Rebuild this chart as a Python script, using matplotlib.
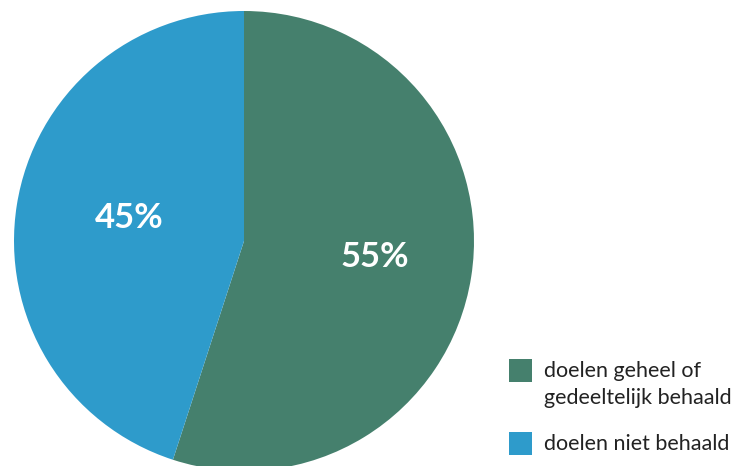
import matplotlib
matplotlib.use("Agg")
import matplotlib.pyplot as plt
from matplotlib.patches import Rectangle

labels = ["doelen geheel of\ngedeeltelijk behaald", "doelen niet behaald"]
values = [55, 45]
colors = ["#45806D", "#2E9BCB"]

plt.rcParams['font.family'] = ['Lato', 'DejaVu Sans']

W, H = 738, 466
fig = plt.figure(figsize=(W/100, H/100), dpi=100)
cx, cy, r = 244, 241, 230
ax = fig.add_axes([(cx - r)/W, (H - cy - r)/H, 2*r/W, 2*r/H])
wedges, texts, autotexts = ax.pie(
    values, colors=colors, startangle=90, counterclock=False,
    autopct=lambda p: f"{p:.0f}%", pctdistance=0.54, radius=1,
    wedgeprops=dict(linewidth=0),
    textprops=dict(color="white", fontsize=25, fontweight="bold"))
for t in autotexts:
    x, y = t.get_position()
    t.set_position((x + 0.035, y + 0.015))
ax.set_xlim(-1, 1)
ax.set_ylim(-1, 1)
ax.set_aspect("equal")
ax.axis("off")

# legend drawn in figure pixel space
sq = 23
tops = [359, 432]
for lab, c, top in zip(labels, colors, tops):
    fig.patches.append(Rectangle((509/W, (H - top - sq)/H), sq/W, sq/H,
                                 transform=fig.transFigure, facecolor=c,
                                 edgecolor="none"))
    fig.text(544/W, (H - top - 2)/H, lab, ha="left", va="top",
             fontsize=15.5, color="#222222", linespacing=1.45)
fig.savefig("out.png", dpi=100)
